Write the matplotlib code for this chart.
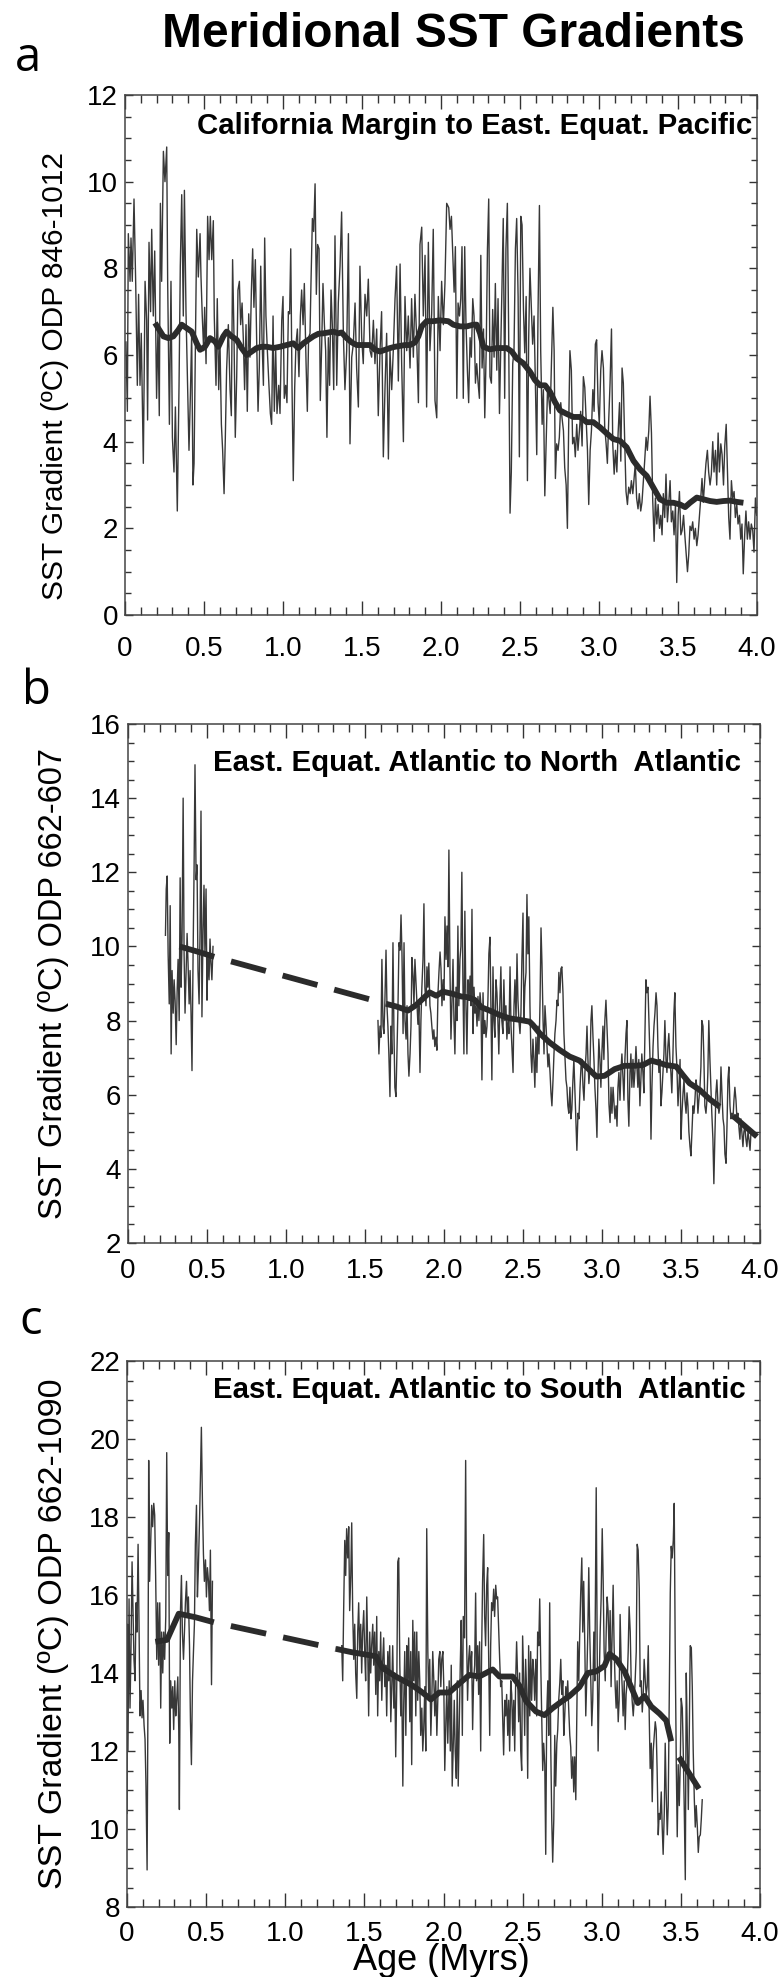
import matplotlib
matplotlib.use("Agg")
import matplotlib.pyplot as plt
from matplotlib.ticker import MultipleLocator, FuncFormatter

# ---------------- panel a : ODP 846-1012 ----------------
age_a = [
    0.006, 0.015, 0.021, 0.032, 0.038, 0.046, 0.057, 0.068, 0.078, 0.086,
    0.095, 0.103, 0.116, 0.127, 0.137, 0.143, 0.152, 0.162, 0.169, 0.179,
    0.188, 0.200, 0.209, 0.217, 0.224, 0.232, 0.243, 0.253, 0.264, 0.270,
    0.281, 0.291, 0.300, 0.310, 0.319, 0.331, 0.342, 0.350, 0.359, 0.369,
    0.376, 0.386, 0.397, 0.405, 0.414, 0.422, 0.430, 0.437, 0.445, 0.454,
    0.464, 0.475, 0.481, 0.489, 0.498, 0.504, 0.513, 0.523, 0.532, 0.540,
    0.549, 0.559, 0.565, 0.576, 0.584, 0.593, 0.601, 0.610, 0.618, 0.627,
    0.635, 0.643, 0.654, 0.665, 0.673, 0.681, 0.690, 0.698, 0.707, 0.715,
    0.724, 0.732, 0.741, 0.749, 0.757, 0.766, 0.774, 0.783, 0.791, 0.800,
    0.808, 0.816, 0.825, 0.833, 0.842, 0.850, 0.859, 0.867, 0.876, 0.884,
    0.892, 0.901, 0.911, 0.920, 0.928, 0.937, 0.945, 0.954, 0.962, 0.973,
    0.981, 0.992, 1.000, 1.008, 1.017, 1.025, 1.034, 1.042, 1.049, 1.057,
    1.065, 1.074, 1.082, 1.091, 1.101, 1.110, 1.118, 1.127, 1.135, 1.146,
    1.154, 1.162, 1.171, 1.177, 1.186, 1.194, 1.203, 1.211, 1.219, 1.228,
    1.236, 1.245, 1.253, 1.262, 1.270, 1.278, 1.287, 1.295, 1.304, 1.312,
    1.321, 1.329, 1.340, 1.350, 1.361, 1.371, 1.382, 1.392, 1.403, 1.414,
    1.424, 1.435, 1.445, 1.456, 1.466, 1.477, 1.487, 1.498, 1.508, 1.519,
    1.530, 1.540, 1.551, 1.561, 1.572, 1.582, 1.593, 1.603, 1.614, 1.624,
    1.635, 1.646, 1.656, 1.667, 1.677, 1.688, 1.698, 1.709, 1.719, 1.730,
    1.741, 1.751, 1.762, 1.772, 1.783, 1.793, 1.804, 1.814, 1.825, 1.835,
    1.846, 1.857, 1.867, 1.878, 1.888, 1.899, 1.909, 1.920, 1.930, 1.941,
    1.951, 1.962, 1.973, 1.983, 1.994, 2.004, 2.015, 2.025, 2.036,
    2.049, 2.057, 2.066, 2.074, 2.083, 2.091, 2.100, 2.108, 2.117, 2.125,
    2.133, 2.141, 2.150, 2.158, 2.167, 2.175, 2.184, 2.192, 2.201, 2.209,
    2.218, 2.226, 2.235, 2.243, 2.252, 2.260, 2.269, 2.277, 2.286, 2.294,
    2.302, 2.310, 2.319, 2.327, 2.336, 2.344, 2.353, 2.361, 2.370, 2.378,
    2.386, 2.394, 2.403, 2.411, 2.420, 2.428, 2.437, 2.445, 2.454, 2.462,
    2.471, 2.479, 2.488, 2.496, 2.505, 2.513, 2.522, 2.530, 2.539, 2.547,
    2.555, 2.563, 2.572, 2.580, 2.589, 2.597, 2.606, 2.614, 2.623, 2.631,
    2.640, 2.648, 2.657, 2.665, 2.674, 2.682, 2.691, 2.699, 2.708, 2.716,
    2.724, 2.732, 2.741, 2.749, 2.758, 2.766, 2.775, 2.783, 2.792, 2.800,
    2.808, 2.816, 2.825, 2.833, 2.842, 2.850, 2.859, 2.867, 2.876, 2.884,
    2.893, 2.901, 2.910, 2.918, 2.927, 2.935, 2.944, 2.952, 2.961, 2.969,
    2.977, 2.985, 2.994, 3.002, 3.011, 3.019, 3.028, 3.036, 3.045, 3.053,
    3.062, 3.070, 3.079, 3.087, 3.096, 3.104, 3.113, 3.121, 3.130, 3.138,
    3.146, 3.154, 3.163, 3.171, 3.180, 3.188, 3.197, 3.205, 3.214, 3.222,
    3.230, 3.238, 3.247, 3.255, 3.264, 3.272, 3.281, 3.289, 3.298, 3.306,
    3.315, 3.323, 3.332, 3.340, 3.349, 3.357, 3.366, 3.374, 3.383, 3.391,
    3.399, 3.407, 3.416, 3.424, 3.433, 3.441, 3.450, 3.458, 3.467, 3.475,
    3.484, 3.492, 3.501, 3.509, 3.518, 3.526, 3.535, 3.543, 3.552, 3.560,
    3.568, 3.576, 3.585, 3.593, 3.602, 3.610, 3.619, 3.627, 3.636, 3.644,
    3.652, 3.660, 3.669, 3.677, 3.686, 3.694, 3.703, 3.711, 3.720, 3.728,
    3.737, 3.745, 3.754, 3.762, 3.771, 3.779, 3.788, 3.796, 3.805, 3.813,
    3.821, 3.829, 3.838, 3.846, 3.855, 3.863, 3.872, 3.880, 3.889, 3.897,
    3.905, 3.913, 3.922, 3.930, 3.939, 3.947, 3.956, 3.964, 3.973, 3.981,
    3.990, 3.998,
]
sst_a = [
    6.3, 4.7, 8.8, 7.7, 8.7, 7.7, 9.6, 7.6, 5.3, 7.4,
    5.3, 6.5, 3.5, 7.7, 6.8, 4.5, 8.6, 7.0, 8.9, 6.9,
    8.4, 5.0, 6.7, 4.6, 9.5, 7.7, 10.7, 10.0, 10.8, 7.7,
    4.4, 7.7, 4.1, 3.3, 4.8, 2.4, 5.3, 8.05, 9.7, 6.9,
    9.8, 7.0, 5.1, 3.8, 5.1, 6.5, 3.0, 3.5, 6.0, 8.9,
    7.8, 8.8, 7.8, 6.9, 6.1, 7.1, 5.8, 9.2, 8.2, 9.2,
    8.2, 9.1, 6.9, 5.3, 7.3, 5.2, 6.3, 4.4, 3.8, 2.8,
    4.1, 5.65, 6.7, 5.2, 4.6, 8.2, 6.4, 4.1, 5.5, 7.5,
    7.7, 6.7, 7.2, 6.35, 5.2, 6.7, 4.7, 6.95, 5.95, 7.5,
    8.45, 7.1, 8.2, 6.4, 4.7, 5.7, 8.05, 6.4, 5.3, 8.7,
    6.9, 6.1, 5.3, 4.65, 4.4, 6.9, 4.7, 6.1, 4.65, 5.3,
    4.65, 6.8, 7.35, 5.0, 5.3, 4.9, 7.0, 6.95, 8.45, 5.3,
    3.1, 5.25, 6.25, 6.6, 5.5, 6.9, 7.5, 6.7, 7.65, 5.8,
    4.7, 6.4, 6.5, 7.65, 9.15, 8.85, 9.95, 7.4, 8.55, 8.45,
    4.95, 6.25, 7.65, 6.7, 6.1, 4.1, 6.4, 5.3, 7.5, 6.7,
    5.2, 8.75, 5.3, 7.2, 8.05, 9.3, 6.5, 5.2, 6.1, 8.8,
    3.95, 5.95, 6.25, 7.2, 5.7, 4.8, 8.05, 6.4, 5.8, 7.4,
    6.9, 7.75, 6.1, 5.95, 6.8, 5.8, 6.6, 4.6, 6.1, 7.0,
    3.65, 5.3, 6.5, 3.6, 6.1, 5.2, 6.1, 7.3, 8.05, 5.4,
    8.1, 5.8, 4.0, 7.35, 6.1, 6.9, 5.7, 7.3, 5.95, 7.4,
    6.4, 4.9, 8.55, 8.95, 6.9, 8.3, 4.8, 8.6, 6.1, 6.95,
    8.9, 4.95, 4.55, 7.35, 6.1, 7.7, 6.7, 7.65, 9.5,
    9.4, 8.9, 9.2, 8.35, 7.45, 8.5, 5.0, 7.2, 6.9, 7.3,
    8.5, 5.0, 8.5, 6.75, 5.65, 4.9, 6.4, 5.95, 7.3, 6.9,
    5.35, 5.8, 5.35, 5.0, 8.3, 5.7, 6.6, 4.55, 6.1, 8.45,
    9.6, 5.5, 5.35, 7.05, 5.95, 7.65, 5.65, 7.3, 4.65, 6.1,
    7.6, 9.15, 5.0, 8.45, 9.5, 6.6, 2.35, 3.3, 5.8, 6.1,
    8.45, 9.15, 7.35, 3.65, 9.2, 9.0, 7.05, 6.05, 7.35, 3.1,
    6.4, 8.0, 7.1, 6.25, 6.9, 5.4, 3.7, 6.95, 9.45, 6.1,
    4.4, 5.2, 2.75, 3.95, 5.2, 5.0, 4.65, 5.8, 7.1, 6.1,
    3.15, 3.95, 3.8, 4.1, 4.9, 4.55, 4.25, 3.4, 3.0, 2.0,
    4.35, 6.1, 5.65, 3.95, 4.1, 3.65, 4.4, 3.8, 4.25, 4.7,
    3.9, 5.5, 5.25, 4.55, 3.8, 2.55, 3.8, 4.25, 5.2, 4.7,
    6.25, 6.35, 4.9, 4.4, 5.65, 6.1, 5.7, 4.35, 3.95, 3.5,
    4.55, 5.35, 6.6, 3.95, 3.25, 3.8, 3.3, 4.2, 4.9, 3.55,
    5.7, 5.35, 3.95, 2.85, 2.55, 2.95, 2.8, 3.1, 2.8, 3.15,
    3.5, 2.7, 2.45, 2.8, 2.4, 2.6, 3.1, 3.55, 4.1, 3.8,
    4.25, 5.05, 4.2, 2.65, 1.7, 2.7, 2.1, 2.55, 2.0, 2.3,
    1.85, 2.8, 2.25, 3.25, 2.15, 2.55, 3.1, 2.15, 2.4, 1.85,
    2.55, 0.75, 2.3, 2.85, 1.85, 1.95, 2.3, 1.85, 1.4, 1.0,
    1.4, 2.05, 1.95, 2.15, 1.75, 2.0, 1.6, 1.85, 2.3, 2.7,
    3.15, 2.6, 3.1, 3.5, 3.8, 3.3, 3.0, 3.25, 4.0, 3.3,
    3.8, 3.0, 4.2, 3.3, 3.95, 3.7, 3.0, 3.9, 4.4, 3.3,
    2.25, 1.75, 3.1, 2.7, 2.85, 2.25, 2.55, 2.1, 2.3, 1.75,
    2.1, 0.95, 1.85, 2.4, 1.75, 2.15, 1.75, 2.1, 1.95, 1.45,
    2.7, 2.3,
]
smooth_age_a = [
    0.190, 0.217, 0.243, 0.274, 0.306, 0.338, 0.359, 0.390, 0.422, 0.454,
    0.475, 0.506, 0.538, 0.570, 0.591, 0.622, 0.643, 0.675, 0.707, 0.738,
    0.770, 0.802, 0.833, 0.865, 0.897, 0.939, 0.981, 1.023, 1.065, 1.097,
    1.129, 1.160, 1.192, 1.224, 1.255, 1.287, 1.319, 1.350, 1.371, 1.403,
    1.435, 1.466, 1.508, 1.551, 1.582, 1.614, 1.646, 1.677, 1.709, 1.741,
    1.772, 1.804, 1.835, 1.857, 1.878, 1.909, 1.951, 1.994, 2.046, 2.078,
    2.121, 2.163, 2.205, 2.226, 2.247, 2.268, 2.310, 2.353, 2.416, 2.448,
    2.479, 2.521, 2.564, 2.595, 2.627, 2.659, 2.690, 2.722, 2.753, 2.796,
    2.838, 2.880, 2.922, 2.964, 3.007, 3.049, 3.091, 3.133, 3.175, 3.218,
    3.260, 3.302, 3.344, 3.386, 3.429, 3.471, 3.513, 3.545, 3.576, 3.619,
    3.661, 3.703, 3.745, 3.787, 3.830, 3.872, 3.914,
]
smooth_a = [
    6.74, 6.58, 6.43, 6.39, 6.43, 6.58, 6.70, 6.62, 6.54, 6.27,
    6.12, 6.19, 6.39, 6.31, 6.19, 6.43, 6.54, 6.43, 6.35, 6.16,
    6.00, 6.08, 6.16, 6.19, 6.19, 6.16, 6.19, 6.23, 6.27, 6.16,
    6.27, 6.35, 6.43, 6.49, 6.50, 6.52, 6.54, 6.50, 6.52, 6.39,
    6.29, 6.23, 6.23, 6.23, 6.12, 6.08, 6.12, 6.16, 6.19, 6.21,
    6.23, 6.23, 6.29, 6.43, 6.66, 6.78, 6.78, 6.80, 6.78, 6.70,
    6.66, 6.66, 6.70, 6.70, 6.50, 6.19, 6.13, 6.16, 6.16, 6.08,
    5.92, 5.81, 5.61, 5.42, 5.30, 5.30, 5.15, 4.91, 4.72, 4.64,
    4.57, 4.57, 4.45, 4.45, 4.33, 4.19, 4.06, 4.02, 3.87, 3.56,
    3.36, 3.21, 2.94, 2.67, 2.59, 2.59, 2.55, 2.49, 2.59, 2.71,
    2.67, 2.63, 2.61, 2.63, 2.64, 2.61, 2.59,
]

# ---------------- panel b : ODP 662-607 ----------------
age_b1 = [
    0.237, 0.242, 0.248, 0.254, 0.261, 0.267, 0.273, 0.279, 0.286, 0.292,
    0.298, 0.305, 0.311, 0.317, 0.324, 0.330, 0.336, 0.342, 0.349, 0.355,
    0.361, 0.368, 0.374, 0.380, 0.387, 0.393, 0.399, 0.405, 0.412, 0.418,
    0.424, 0.431, 0.437, 0.443, 0.450, 0.456, 0.462, 0.468, 0.475, 0.481,
    0.487, 0.494, 0.500, 0.506, 0.513, 0.519, 0.525, 0.531, 0.538,
]
sst_b1 = [
    10.3, 11.55, 11.9, 9.8, 8.45, 11.1, 7.1, 9.35, 8.2, 9.1,
    8.55, 7.35, 8.8, 9.65, 8.0, 11.85, 8.9, 10.2, 14.0, 9.8,
    8.2, 9.35, 10.35, 9.55, 8.45, 9.35, 8.2, 6.65, 9.8, 12.0,
    14.9, 11.8, 12.2, 9.35, 8.45, 10.45, 13.65, 8.1, 10.45, 11.65,
    9.8, 11.55, 8.55, 9.8, 9.1, 10.2, 9.55, 9.1, 10.0,
]
age_b2 = [
    1.582, 1.588, 1.595, 1.601, 1.607, 1.614, 1.620, 1.626, 1.633, 1.639,
    1.645, 1.651, 1.658, 1.664, 1.670, 1.677, 1.683, 1.689, 1.696, 1.702,
    1.709, 1.715, 1.722, 1.728, 1.734, 1.741, 1.747, 1.753, 1.760, 1.766,
    1.772, 1.778, 1.785, 1.791, 1.797, 1.804, 1.810, 1.816, 1.823, 1.829,
    1.835, 1.841, 1.848, 1.854, 1.860, 1.867, 1.873, 1.879, 1.886, 1.892,
    1.898, 1.904, 1.911, 1.917, 1.923, 1.930, 1.936, 1.942, 1.949, 1.955,
    1.962, 1.968, 1.975, 1.981, 1.987, 1.994, 2.000, 2.006, 2.013, 2.019,
    2.025, 2.031, 2.038, 2.044, 2.050, 2.057, 2.063, 2.069, 2.076, 2.082,
    2.088, 2.094, 2.101, 2.107, 2.113, 2.120, 2.126, 2.132, 2.139, 2.145,
    2.152, 2.158, 2.165, 2.171, 2.177, 2.184, 2.190, 2.196, 2.203, 2.209,
    2.215, 2.221, 2.228, 2.234, 2.240, 2.247, 2.253, 2.259, 2.266, 2.272,
    2.278, 2.284, 2.291, 2.297, 2.303, 2.310, 2.316, 2.322, 2.329, 2.335,
    2.341, 2.347, 2.354, 2.360, 2.366, 2.373, 2.379, 2.385, 2.392, 2.398,
    2.405, 2.411, 2.418, 2.424, 2.430, 2.437, 2.443, 2.449, 2.456, 2.462,
    2.468, 2.474, 2.481, 2.487, 2.493, 2.500, 2.506, 2.512, 2.519, 2.525,
    2.531, 2.537, 2.544, 2.550, 2.556, 2.563, 2.569, 2.575, 2.582, 2.588,
    2.595, 2.601, 2.608, 2.614, 2.620, 2.627, 2.633, 2.639, 2.646, 2.652,
    2.658, 2.664, 2.671, 2.677, 2.683, 2.690, 2.696, 2.702, 2.709, 2.715,
    2.721, 2.727, 2.734, 2.740, 2.746, 2.753, 2.759, 2.765, 2.772, 2.778,
    2.784, 2.790, 2.797, 2.803, 2.809, 2.816, 2.822, 2.828, 2.835, 2.841,
    2.848, 2.854, 2.861, 2.867, 2.873, 2.880, 2.886, 2.892, 2.899, 2.905,
    2.911, 2.917, 2.924, 2.930, 2.936, 2.943, 2.949, 2.955, 2.962, 2.968,
    2.974, 2.980, 2.987, 2.993, 2.999, 3.006, 3.012, 3.018, 3.025, 3.031,
    3.038, 3.044, 3.051, 3.057, 3.063, 3.070, 3.076, 3.082, 3.089, 3.095,
    3.101, 3.107, 3.114, 3.120, 3.126, 3.133, 3.139, 3.145, 3.152, 3.158,
    3.164, 3.170, 3.177, 3.183, 3.189, 3.196, 3.202, 3.208, 3.215, 3.221,
    3.227, 3.233, 3.240, 3.246, 3.252, 3.259, 3.265, 3.271, 3.278, 3.284,
    3.291, 3.297, 3.304, 3.310, 3.316, 3.323, 3.329, 3.335, 3.342, 3.348,
    3.354, 3.360, 3.367, 3.373, 3.379, 3.386, 3.392, 3.398, 3.405, 3.411,
    3.417, 3.423, 3.430, 3.436, 3.442, 3.449, 3.455, 3.461, 3.468, 3.474,
    3.481, 3.487, 3.494, 3.500, 3.506, 3.513, 3.519, 3.525, 3.532, 3.538,
    3.544, 3.550, 3.557, 3.563, 3.569, 3.576, 3.582, 3.588, 3.595, 3.601,
    3.607, 3.613, 3.620, 3.626, 3.632, 3.639, 3.645, 3.651, 3.658, 3.664,
    3.670, 3.676, 3.683, 3.689, 3.695, 3.702, 3.708, 3.714, 3.721, 3.727,
    3.734, 3.740, 3.747, 3.753, 3.759, 3.766, 3.772, 3.778, 3.785, 3.791,
    3.797, 3.803, 3.810, 3.816, 3.822, 3.829, 3.835, 3.841, 3.848, 3.854,
    3.860, 3.866, 3.873, 3.879, 3.885, 3.892, 3.898, 3.904, 3.911, 3.917,
    3.924, 3.930, 3.937, 3.943,
]
sst_b2 = [
    8.0, 7.1, 7.85, 7.55, 9.65, 7.85, 7.65, 8.55, 9.9, 8.4,
    7.85, 7.1, 5.95, 7.85, 7.1, 10.1, 7.75, 6.2, 5.95, 7.1,
    8.45, 10.1, 9.9, 10.85, 9.8, 7.65, 10.1, 8.0, 7.5, 8.4,
    7.1, 6.5, 7.1, 7.85, 9.7, 9.2, 8.4, 9.65, 9.0, 8.4,
    7.9, 8.4, 6.6, 8.0, 8.9, 9.65, 11.15, 8.9, 8.4, 9.45,
    8.9, 9.55, 8.4, 8.2, 7.85, 7.5, 7.75, 7.3, 7.55, 7.2,
    8.75, 9.3, 9.85, 9.4, 8.4, 9.1, 8.55, 10.8, 9.65, 10.55,
    9.45, 12.6, 9.3, 7.5, 8.4, 9.65, 8.0, 7.1, 8.9, 8.0,
    10.55, 8.4, 9.65, 10.0, 12.0, 8.9, 7.1, 10.95, 8.4, 7.1,
    9.1, 8.55, 9.2, 8.4, 11.0, 7.65, 8.9, 8.2, 8.4, 7.85,
    8.65, 8.0, 8.75, 8.4, 6.4, 8.75, 7.65, 8.0, 7.55, 7.85,
    8.55, 9.8, 10.25, 8.4, 6.4, 9.45, 8.0, 7.55, 9.1, 8.75,
    8.0, 7.1, 8.55, 9.45, 8.0, 7.65, 9.1, 8.0, 8.4, 7.5,
    8.0, 7.65, 9.45, 7.85, 7.3, 6.6, 8.4, 9.1, 8.0, 9.8,
    8.55, 8.0, 7.65, 8.2, 9.65, 10.9, 8.0, 8.9, 9.3, 11.4,
    9.8, 10.8, 8.4, 7.1, 6.6, 7.5, 6.95, 6.2, 7.55, 6.6,
    7.85, 7.1, 8.55, 10.5, 9.55, 8.0, 7.1, 8.4, 7.85, 7.3,
    6.75, 7.1, 6.6, 6.05, 5.7, 6.4, 7.1, 7.65, 8.0, 8.55,
    8.4, 9.3, 8.75, 9.4, 9.45, 8.75, 7.65, 7.1, 6.4, 6.2,
    5.7, 5.5, 6.2, 5.35, 5.6, 6.4, 6.95, 6.2, 5.35, 4.5,
    5.5, 5.35, 6.2, 6.75, 6.95, 6.2, 5.85, 6.6, 7.1, 7.85,
    6.95, 6.3, 6.75, 8.0, 8.4, 7.55, 6.95, 6.2, 5.6, 4.85,
    6.4, 7.5, 6.95, 6.2, 7.1, 7.85, 6.95, 8.0, 8.55, 7.9,
    7.1, 5.75, 5.25, 6.2, 5.5, 6.2, 5.75, 5.35, 5.7, 5.15,
    6.2, 6.6, 5.85, 6.65, 7.1, 6.4, 5.85, 6.95, 7.65, 8.0,
    5.85, 5.15, 6.6, 7.1, 6.2, 6.95, 6.2, 6.6, 7.3, 6.75,
    6.2, 6.95, 5.7, 6.4, 7.1, 6.6, 6.05, 7.5, 9.1, 8.75,
    8.9, 8.0, 6.95, 4.8, 6.2, 7.3, 7.85, 8.2, 8.75, 8.4,
    7.3, 6.6, 6.95, 5.7, 6.05, 6.6, 7.1, 8.0, 6.95, 6.6,
    7.3, 7.65, 6.95, 6.6, 6.05, 7.1, 8.2, 8.75, 7.3, 6.75,
    5.7, 6.2, 6.95, 4.8, 5.5, 6.05, 6.4, 5.85, 5.5, 6.05,
    5.7, 5.0, 4.6, 4.35, 5.0, 5.7, 5.5, 5.85, 6.4, 6.2,
    5.5, 5.85, 6.2, 6.75, 8.0, 7.85, 6.95, 5.7, 5.5, 5.85,
    6.6, 8.0, 6.95, 6.2, 5.5, 4.8, 3.6, 4.8, 6.05, 6.4,
    5.75, 5.5, 5.7, 6.75, 6.05, 5.35, 5.15, 4.4, 4.15, 5.15,
    6.4, 6.75, 5.7, 5.35, 5.5, 5.35, 5.85, 6.2, 5.85, 5.35,
    5.5, 5.15, 4.8, 5.35, 5.0, 4.6, 5.0, 5.15, 4.8, 4.6,
    5.0, 4.8, 4.5, 5.0,
]
smooth_age_b1 = [0.326, 0.440, 0.546]
smooth_b1 = [10.0, 9.86, 9.72]
smooth_age_b2 = [
    1.635, 1.698, 1.772, 1.824, 1.909, 1.951, 1.993, 2.056, 2.109, 2.151,
    2.194, 2.236, 2.289, 2.352, 2.415, 2.478, 2.542, 2.563, 2.605, 2.668,
    2.731, 2.795, 2.858, 2.911, 2.964, 3.016, 3.080, 3.143, 3.206, 3.259,
    3.312, 3.354, 3.407, 3.470, 3.512, 3.554, 3.618, 3.681, 3.744,
]
smooth_b2 = [
    8.45, 8.38, 8.27, 8.42, 8.76, 8.67, 8.78, 8.72, 8.65, 8.63,
    8.56, 8.36, 8.27, 8.15, 8.06, 8.02, 7.97, 7.88, 7.66, 7.41,
    7.21, 7.03, 6.92, 6.71, 6.49, 6.51, 6.69, 6.78, 6.78, 6.80,
    6.92, 6.87, 6.80, 6.76, 6.53, 6.31, 6.13, 5.88, 5.68,
]
smooth_age_b3 = [3.829, 3.981]
smooth_b3 = [5.43, 4.87]

# ---------------- panel c : ODP 662-1090 ----------------
age_c1 = [
    0.000, 0.003, 0.006, 0.013, 0.019, 0.025, 0.032, 0.038, 0.044, 0.051,
    0.057, 0.063, 0.070, 0.076, 0.082, 0.089, 0.095, 0.101, 0.108, 0.114,
    0.120, 0.127, 0.133, 0.137, 0.143, 0.150, 0.156, 0.162, 0.169, 0.175,
    0.181, 0.188, 0.194, 0.200, 0.207, 0.213, 0.219, 0.226, 0.232, 0.238,
    0.245, 0.251, 0.257, 0.264, 0.270, 0.276, 0.283, 0.289, 0.295, 0.302,
    0.308, 0.314, 0.321, 0.327, 0.331, 0.338, 0.344, 0.350, 0.357, 0.363,
    0.369, 0.376, 0.382, 0.388, 0.395, 0.401, 0.407, 0.414, 0.420, 0.426,
    0.432, 0.439, 0.445, 0.451, 0.458, 0.464, 0.470, 0.477, 0.483, 0.489,
    0.496, 0.502, 0.508, 0.515, 0.521, 0.527, 0.534, 0.540,
]
sst_c1 = [
    10.4, 15.25, 12.0, 15.9, 13.1, 14.55, 16.85, 15.6, 14.35, 13.8,
    15.8, 15.05, 17.3, 15.25, 12.9, 13.55, 12.85, 13.3, 12.65, 12.3,
    11.1, 8.95, 13.8, 19.45, 16.35, 17.4, 18.3, 17.75, 18.35, 18.05,
    16.5, 14.35, 15.8, 14.2, 15.8, 13.1, 15.05, 14.0, 15.05, 14.35,
    15.45, 19.65, 16.5, 17.6, 12.2, 13.8, 13.1, 13.65, 12.55, 13.8,
    12.9, 13.3, 13.9, 12.55, 10.5, 15.6, 16.5, 15.05, 14.35, 15.05,
    15.8, 16.35, 15.45, 15.95, 14.7, 12.75, 11.65, 13.8, 14.55, 15.25,
    17.3, 18.3, 15.95, 16.7, 17.85, 19.0, 20.3, 18.3, 17.05, 16.35,
    16.9, 15.95, 16.7, 16.35, 15.6, 17.15, 13.7, 16.35,
]
age_c2 = [
    1.357, 1.363, 1.369, 1.376, 1.382, 1.388, 1.395, 1.401, 1.407, 1.414,
    1.420, 1.426, 1.433, 1.439, 1.445, 1.452, 1.458, 1.464, 1.470, 1.477,
    1.483, 1.489, 1.496, 1.502, 1.508, 1.515, 1.521, 1.527, 1.534, 1.540,
    1.546, 1.553, 1.559, 1.565, 1.572, 1.578, 1.584, 1.591, 1.597, 1.603,
    1.610, 1.616, 1.622, 1.629, 1.635, 1.641, 1.648, 1.654, 1.660, 1.667,
    1.673, 1.679, 1.686, 1.692, 1.698, 1.705, 1.711, 1.717, 1.724, 1.730,
    1.736, 1.743, 1.749, 1.755, 1.762, 1.768, 1.774, 1.780, 1.787, 1.793,
    1.799, 1.806, 1.812, 1.818, 1.825, 1.831, 1.837, 1.844, 1.850, 1.856,
    1.863, 1.869, 1.875, 1.882, 1.888, 1.894, 1.901, 1.907, 1.913, 1.920,
    1.926, 1.932, 1.939, 1.945, 1.951, 1.958, 1.964, 1.970, 1.977, 1.983,
    1.989, 1.996, 2.002, 2.008, 2.015, 2.021, 2.027,
    2.036, 2.043, 2.049, 2.055, 2.062, 2.068, 2.074, 2.081, 2.087, 2.093,
    2.100, 2.106, 2.112, 2.119, 2.125, 2.133, 2.140, 2.146, 2.152, 2.159,
    2.165, 2.171, 2.178, 2.184, 2.190, 2.197, 2.203, 2.209, 2.216, 2.222,
    2.228, 2.235, 2.241, 2.247, 2.254, 2.260, 2.266, 2.273, 2.279, 2.285,
    2.292, 2.298, 2.304, 2.311, 2.317, 2.323, 2.330, 2.336, 2.342, 2.349,
    2.355, 2.361, 2.368, 2.374, 2.380, 2.387, 2.393, 2.399, 2.406, 2.412,
    2.418, 2.425, 2.431, 2.437, 2.444, 2.450, 2.456, 2.462, 2.469, 2.475,
    2.481, 2.488, 2.494, 2.500, 2.507, 2.513, 2.519, 2.526, 2.532, 2.538,
    2.545, 2.551, 2.557, 2.564, 2.570, 2.576, 2.583, 2.589, 2.595, 2.602,
    2.608, 2.614, 2.621, 2.627, 2.633, 2.640, 2.646, 2.652, 2.659, 2.665,
    2.671, 2.678, 2.684, 2.690, 2.697, 2.703, 2.709, 2.716, 2.722, 2.728,
    2.735, 2.741, 2.747, 2.754, 2.760, 2.766, 2.773, 2.779, 2.785, 2.791,
    2.798, 2.804, 2.810, 2.817, 2.823, 2.829, 2.836, 2.842, 2.848, 2.855,
    2.861, 2.867, 2.874, 2.880, 2.886, 2.893, 2.899, 2.905, 2.912, 2.918,
    2.924, 2.931, 2.937, 2.943, 2.950, 2.956, 2.965, 2.971, 2.977, 2.984,
    2.990, 2.996, 3.003, 3.009, 3.015, 3.022, 3.028, 3.034, 3.040, 3.047,
    3.053, 3.059, 3.066, 3.072, 3.078, 3.085, 3.091, 3.097, 3.104, 3.110,
    3.116, 3.123, 3.129, 3.135, 3.142, 3.148, 3.154, 3.161, 3.167, 3.173,
    3.180, 3.186, 3.192, 3.199, 3.205, 3.211, 3.218, 3.224, 3.230, 3.237,
    3.243, 3.249, 3.256, 3.262, 3.268, 3.275, 3.281, 3.287, 3.294, 3.300,
    3.306, 3.313, 3.319, 3.325, 3.332, 3.338, 3.344, 3.350, 3.357, 3.363,
    3.369, 3.376, 3.382, 3.388, 3.395, 3.401, 3.407, 3.414, 3.420, 3.426,
    3.433, 3.439, 3.445, 3.452, 3.458, 3.464, 3.471, 3.477, 3.483, 3.490,
    3.496, 3.502, 3.509, 3.515, 3.521, 3.528, 3.534, 3.540, 3.547, 3.553,
    3.559, 3.566, 3.572, 3.578, 3.585, 3.591, 3.597, 3.604, 3.610, 3.616,
    3.623, 3.629, 3.635,
]
sst_c2 = [
    14.7, 13.8, 15.6, 17.4, 16.5, 17.7, 16.95, 17.75, 15.6, 16.5,
    17.85, 15.6, 14.35, 15.25, 14.0, 13.35, 15.05, 15.8, 14.55, 15.25,
    14.0, 15.05, 15.6, 14.55, 13.8, 15.95, 14.7, 12.9, 15.05, 14.0,
    14.7, 15.25, 14.2, 15.05, 13.45, 15.45, 12.9, 14.55, 13.8, 15.05,
    13.3, 14.35, 14.9, 13.65, 14.2, 12.9, 14.55, 13.8, 14.7, 12.75,
    13.65, 14.7, 13.1, 14.0, 11.85, 13.8, 16.85, 16.95, 14.2, 12.9,
    13.8, 11.1, 13.3, 14.55, 12.4, 14.7, 13.8, 14.9, 12.75, 14.55,
    11.65, 15.35, 13.8, 15.05, 12.9, 15.05, 13.3, 14.55, 13.8, 12.4,
    13.1, 12.0, 12.55, 13.65, 12.0, 17.7, 14.55, 13.3, 14.35, 12.4,
    13.3, 14.55, 13.8, 12.9, 13.8, 12.4, 13.3, 14.35, 14.55, 13.65,
    14.35, 14.55, 13.65, 11.5, 12.75, 13.65, 12.2,
    13.8, 12.0, 14.2, 11.1, 12.2, 13.3, 12.0, 11.3, 13.8, 11.1,
    12.75, 14.2, 15.35, 12.4, 15.45, 14.9, 19.45, 14.9, 13.3, 14.35,
    14.7, 14.0, 14.55, 12.55, 13.8, 14.2, 16.05, 13.8, 14.7, 13.45,
    14.8, 12.0, 14.55, 16.35, 17.55, 15.45, 14.7, 16.25, 16.7, 14.55,
    12.4, 14.7, 15.8, 15.6, 16.15, 15.45, 16.25, 15.9, 15.95, 15.05,
    14.35, 13.65, 13.8, 12.9, 11.9, 13.3, 12.9, 13.45, 12.4, 13.3,
    12.0, 13.8, 13.45, 12.4, 13.3, 12.0, 13.8, 14.8, 13.8, 12.75,
    14.0, 12.0, 11.5, 14.95, 13.8, 12.4, 14.35, 13.45, 11.3, 14.7,
    12.9, 14.55, 13.3, 14.35, 14.0, 13.3, 14.35, 12.9, 15.05, 14.7,
    15.9, 14.35, 12.75, 11.5, 12.2, 11.65, 9.35, 12.9, 13.8, 12.4,
    15.8, 12.0, 10.25, 9.15, 10.25, 12.4, 11.1, 12.2, 12.55, 13.3,
    13.75, 14.35, 13.45, 13.8, 12.4, 12.9, 13.65, 13.3, 13.8, 13.1,
    12.4, 12.1, 11.3, 11.85, 10.95, 11.85, 10.75, 12.9, 14.8, 13.8,
    15.05, 16.05, 16.95, 15.05, 16.35, 14.7, 12.9, 13.8, 15.05, 16.7,
    15.05, 13.8, 12.65, 13.3, 15.05, 13.8, 18.75, 14.7, 12.0, 13.8,
    15.05, 15.9, 17.7, 16.35, 14.55, 13.8, 15.05, 15.95, 15.6, 14.35,
    15.6, 13.65, 15.05, 16.25, 14.7, 13.65, 13.1, 13.8, 12.75, 13.3,
    15.5, 14.2, 13.65, 12.9, 13.8, 12.55, 13.45, 13.8, 14.55, 15.7,
    15.05, 13.8, 13.3, 12.9, 13.3, 13.8, 14.55, 17.3, 17.15, 16.15,
    13.65, 13.8, 13.0, 13.45, 14.35, 13.8, 13.45, 13.65, 14.7, 12.9,
    11.55, 12.2, 10.7, 12.0, 12.4, 12.75, 12.55, 11.5, 9.85, 10.4,
    10.25, 10.95, 10.05, 9.35, 10.4, 12.2, 10.95, 9.85, 10.6, 13.1,
    16.05, 17.25, 16.95, 17.4, 18.35, 14.7, 11.65, 9.8, 11.65, 10.6,
    11.65, 13.35, 13.1, 12.0, 10.6, 8.7, 14.0, 12.55, 10.5, 12.4,
    14.7, 14.65, 13.65, 12.0, 10.75, 10.05, 10.6, 10.05, 9.4, 9.8,
    9.85, 10.25, 10.75,
]
smooth_age_c1 = [0.179, 0.253, 0.327, 0.432, 0.549]
smooth_c1 = [14.8, 14.85, 15.52, 15.43, 15.3]
smooth_age_c2 = [
    1.319, 1.424, 1.572, 1.614, 1.698, 1.804, 1.867, 1.920, 1.973, 2.036,
    2.100, 2.163, 2.226, 2.311, 2.353, 2.437, 2.479, 2.522, 2.585, 2.638,
    2.690, 2.733, 2.796, 2.859, 2.912, 2.965, 3.017, 3.049, 3.091, 3.144,
    3.186, 3.228, 3.270, 3.313, 3.365, 3.408, 3.439,
]
smooth_c2 = [
    14.62, 14.53, 14.43, 14.13, 13.91, 13.68, 13.5, 13.32, 13.5, 13.5,
    13.73, 13.95, 13.91, 14.09, 13.91, 13.91, 13.68, 13.28, 13.01, 12.92,
    13.1, 13.23, 13.41, 13.64, 14.0, 14.04, 14.18, 14.49, 14.36, 14.04,
    13.64, 13.23, 13.41, 13.14, 12.96, 12.78, 12.25,
]
smooth_age_c3 = [3.488, 3.614]
smooth_c3 = [11.84, 11.03]

# ---------------- figure ----------------
plt.rcParams['font.family'] = ['Liberation Sans', 'DejaVu Sans']
plt.rcParams['lines.scale_dashes'] = False

W, H = 783, 1977
fig = plt.figure(figsize=(W / 100, H / 100), dpi=100)


def px_axes(left, right, top, bottom):
    ax = fig.add_axes([left / W, 1 - bottom / H, (right - left) / W, (bottom - top) / H])
    ax.px_left, ax.px_width = left, right - left
    return ax


def age_fmt(v, pos):
    return '0' if abs(v) < 1e-9 else f'{v:.1f}'


THIN = dict(color='#383838', lw=1.0, zorder=2)
THICK = dict(color='#2b2b2b', lw=4.2, zorder=3, solid_capstyle='butt')
DASH = dict(color='#2b2b2b', lw=4.2, zorder=3, dash_capstyle='butt',
            ls=(26, (26, 12.5)))


def setup(ax, ylo, yhi, ylabel, ylab_size, ylab_y, xpad, note, note_x, note_y):
    ax.set_xlim(0, 4)
    ax.set_ylim(ylo, yhi)
    ax.xaxis.set_major_locator(MultipleLocator(0.5))
    ax.xaxis.set_minor_locator(MultipleLocator(0.1))
    ax.yaxis.set_major_locator(MultipleLocator(2))
    ax.yaxis.set_minor_locator(MultipleLocator(0.5))
    ax.xaxis.set_major_formatter(FuncFormatter(age_fmt))
    ax.tick_params(which='both', direction='in', top=True, right=True,
                   color='#333333', width=1.0, labelsize=20)
    ax.tick_params(axis='x', which='major', length=10, pad=xpad)
    ax.tick_params(axis='x', which='minor', length=5.5)
    ax.tick_params(axis='y', which='major', length=6, pad=5)
    ax.tick_params(axis='y', which='minor', length=4.5)
    for s in ax.spines.values():
        s.set_color('#444444')
        s.set_linewidth(1.1)
    ax.set_ylabel(ylabel, fontsize=ylab_size)
    # right edge of the rotated label sits about 69 px from the figure edge
    ax.yaxis.set_label_coords((69 - ax.px_left) / ax.px_width, ylab_y)
    ax.text(note_x, note_y, note, transform=ax.transAxes, ha='right',
            va='center', fontsize=21.2, fontweight='bold')


# panel a
ax_a = px_axes(125, 757, 95, 615)
ax_a.plot(age_a, sst_a, **THIN)
ax_a.plot(smooth_age_a, smooth_a, **THICK)
setup(ax_a, 0, 12, 'SST Gradient (ºC) ODP 846-1012', 21.5, 0.46, 15,
      'California Margin to East. Equat. Pacific', 0.993, 0.94)

# panel b
ax_b = px_axes(128, 760, 724, 1243)
ax_b.plot(age_b1, sst_b1, **THIN)
ax_b.plot(age_b2, sst_b2, **THIN)
ax_b.plot(smooth_age_b1, smooth_b1, **THICK)
ax_b.plot([smooth_age_b1[-1], smooth_age_b2[0]], [smooth_b1[-1], smooth_b2[0]], **DASH)
ax_b.plot(smooth_age_b2, smooth_b2, **THICK)
ax_b.plot(smooth_age_b3, smooth_b3, **THICK)
setup(ax_b, 2, 16, 'SST Gradient (ºC) ODP 662-607', 23.5, 0.5, 11,
      'East. Equat. Atlantic to North  Atlantic', 0.97, 0.925)

# panel c
ax_c = px_axes(127, 760, 1361, 1907)
ax_c.plot(age_c1, sst_c1, **THIN)
ax_c.plot(age_c2, sst_c2, **THIN)
ax_c.plot(smooth_age_c1, smooth_c1, **THICK)
ax_c.plot([smooth_age_c1[-1], smooth_age_c2[0]], [smooth_c1[-1], smooth_c2[0]], **DASH)
ax_c.plot(smooth_age_c2, smooth_c2, **THICK)
ax_c.plot(smooth_age_c3, smooth_c3, **THICK)
setup(ax_c, 8, 22, 'SST Gradient (ºC) ODP 662-1090', 24.5, 0.5, 10,
      'East. Equat. Atlantic to South  Atlantic', 0.978, 0.946)

# titles and panel letters
fig.text(453 / W, 1 - 47 / H, 'Meridional SST Gradients', ha='center', va='baseline',
         fontsize=34.5, fontweight='bold')
for letter, x, y in [('a', 15, 71), ('b', 22, 704), ('c', 19, 1334)]:
    fig.text(x / W, 1 - y / H, letter, ha='left', va='baseline', fontsize=34,
             family=['Open Sans', 'DejaVu Sans'])
fig.text(441 / W, 1 - 1961 / H, 'Age (Myrs)', ha='center', va='center', fontsize=26)

fig.savefig('out.png', dpi=100)
